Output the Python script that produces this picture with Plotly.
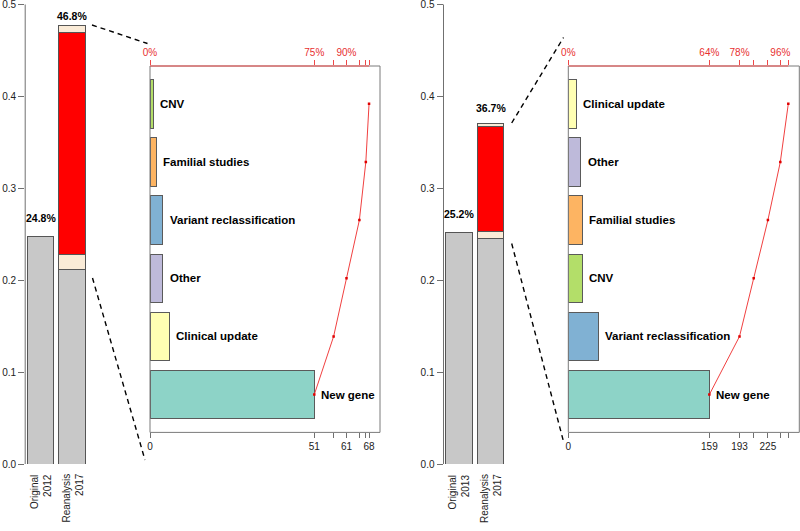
import plotly.graph_objects as go

# ---------------- data ----------------
bar_labels_1 = ["Original<br>2012", "Reanalysis<br>2017"]
bar_labels_2 = ["Original<br>2013", "Reanalysis<br>2017"]
pct_text_1 = ["24.8%", "46.8%"]
pct_text_2 = ["25.2%", "36.7%"]

original_1 = 0.248
re_grey_1 = 0.212
re_beige_low_1 = 0.016
re_red_1 = 0.241
re_beige_top_1 = 0.008
label_vals_1 = [0.248, 0.468]

original_2 = 0.252
re_grey_2 = 0.245
re_beige_low_2 = 0.008
re_red_2 = 0.114
re_beige_top_2 = 0.003
label_vals_2 = [0.252, 0.367]

cats_1 = ["New gene", "Clinical update", "Other", "Variant reclassification", "Familial studies", "CNV"]
counts_1 = [51, 6, 4, 4, 2, 1]
show_bottom_1 = [True, True, False, True, False, False, True]
show_top_1 = [True, True, False, True, False, False, False]

cats_2 = ["New gene", "Variant reclassification", "CNV", "Familial studies", "Other", "Clinical update"]
counts_2 = [159, 34, 16, 16, 14, 9]
show_bottom_2 = [True, True, True, False, True, False, False]
show_top_2 = [True, True, True, False, False, True, False]

y_ticks = [0.0, 0.1, 0.2, 0.3, 0.4, 0.5]

cat_colors = {
    "New gene": "#8DD3C7",
    "Clinical update": "#FFFFB3",
    "Other": "#BEBADA",
    "Variant reclassification": "#80B1D3",
    "Familial studies": "#FDB462",
    "CNV": "#B3DE69",
}

GREY = "#C8C8C8"
BEIGE = "#FAEBD7"
RED = "#FF0000"
W, H = 800, 531
FONT = "Liberation Sans, Arial, sans-serif"


def fx(p):
    return p / W


def fy(p):
    return 1 - p / H


fig = go.Figure()

# bar centres (R barplot style: width 1, space 0.2)
main_x = [0.7, 1.9]
main_range = [0.112, 2.488]


def add_main(xa, ya, original, grey, beige_low, red, beige_top):
    line = dict(color="#555555", width=1)
    fig.add_trace(go.Bar(x=main_x, y=[original, grey], width=1, marker=dict(color=GREY, line=line),
                         xaxis=xa, yaxis=ya, showlegend=False))
    fig.add_trace(go.Bar(x=[main_x[1]], y=[beige_low], width=1, marker=dict(color=BEIGE, line=line),
                         xaxis=xa, yaxis=ya, showlegend=False))
    fig.add_trace(go.Bar(x=[main_x[1]], y=[red], width=1, marker=dict(color=RED, line=line),
                         xaxis=xa, yaxis=ya, showlegend=False))
    fig.add_trace(go.Bar(x=[main_x[1]], y=[beige_top], width=1, marker=dict(color=BEIGE, line=line),
                         xaxis=xa, yaxis=ya, showlegend=False))


add_main("x", "y", original_1, re_grey_1, re_beige_low_1, re_red_1, re_beige_top_1)
add_main("x4", "y4", original_2, re_grey_2, re_beige_low_2, re_red_2, re_beige_top_2)

inset_y = [0.7 + 1.2 * i for i in range(6)]


def cumul(vals):
    out, s = [], 0
    for v in vals:
        s += v
        out.append(s)
    return out


def add_inset(xa, xtop, ya, cats, counts):
    fig.add_trace(go.Bar(y=inset_y, x=counts, orientation="h", width=1,
                         marker=dict(color=[cat_colors[c] for c in cats], line=dict(color="#5a5a5a", width=1)),
                         xaxis=xa, yaxis=ya, showlegend=False))
    cum = cumul(counts)
    fig.add_trace(go.Scatter(x=cum, y=inset_y, mode="lines+markers",
                             line=dict(color="#F04040", width=1),
                             marker=dict(color="#E00000", size=2.5, symbol="square"),
                             xaxis=xtop, yaxis=ya, showlegend=False))


add_inset("x2", "x3", "y2", cats_1, counts_1)
add_inset("x5", "x6", "y5", cats_2, counts_2)

# main y: 0 at px 464, 0.5 at px 4.5 ; range extended a hair so the 0.5 tick is kept
Y_TOP = 0.501
px_per_unit = (464 - 4.5) / 0.5
ydom_main = [fy(464), fy(464 - Y_TOP * px_per_unit)]
ydom_inset = [fy(432.4), fy(66)]

axis_font = dict(family=FONT, size=10, color="#222222")

layout = dict(
    width=W, height=H, margin=dict(l=0, r=0, t=0, b=0, autoexpand=False),
    paper_bgcolor="white", plot_bgcolor="white",
    barmode="stack", bargap=0, hovermode=False,
    font=dict(family=FONT),
)


def main_axes(xname, yname, xdom):
    layout[xname] = dict(domain=xdom, range=main_range, visible=False, fixedrange=True,
                         automargin=False, anchor=yname.replace("axis", ""))
    layout[yname] = dict(domain=ydom_main, range=[0, Y_TOP], showgrid=False, zeroline=False,
                         showline=False, ticklabeloverflow="allow",
                         ticks="outside", ticklen=6, tickcolor="#707070",
                         tickvals=y_ticks, ticktext=["%.1f" % v for v in y_ticks],
                         tickfont=axis_font, automargin=False, anchor=xname.replace("axis", ""))


main_axes("xaxis", "yaxis", [fx(25.2), fx(87.5)])
main_axes("xaxis4", "yaxis4", [fx(443.5), fx(506)])


def inset_axes(xb, xt, ya, xdom, counts, show_b, show_t):
    cum = [0] + cumul(counts)
    total = cum[-1]
    rng = [0, total * 1.05]
    bot_text = [str(c) if s else "" for c, s in zip(cum, show_b)]
    top_text = ["%d%%" % round(100 * c / total) if s else "" for c, s in zip(cum, show_t)]
    layout[xb] = dict(domain=xdom, range=rng, showgrid=False, zeroline=False, showline=False,
                      ticks="outside", ticklen=5, tickcolor="#707070", ticklabeloverflow="allow",
                      tickvals=cum, ticktext=bot_text, tickfont=axis_font, automargin=False,
                      anchor=ya.replace("axis", ""))
    layout[xt] = dict(range=rng, overlaying=xb.replace("axis", ""), side="top",
                      showgrid=False, zeroline=False, showline=False, ticklabeloverflow="allow",
                      ticks="outside", ticklen=5, tickcolor="#F04848",
                      tickvals=cum, ticktext=top_text, automargin=False,
                      tickfont=dict(family=FONT, size=10, color="#E83030"),
                      anchor=ya.replace("axis", ""))
    layout[ya] = dict(domain=ydom_inset, range=[-0.08, 7.48], visible=False, automargin=False,
                      anchor=xb.replace("axis", ""))
    return total


tot1 = inset_axes("xaxis2", "xaxis3", "yaxis2", [fx(150), fx(380)], counts_1, show_bottom_1, show_top_1)
tot2 = inset_axes("xaxis5", "xaxis6", "yaxis5", [fx(568.3), fx(799.3)], counts_2, show_bottom_2, show_top_2)

fig.update_layout(**layout)

shapes = []
# main y axis lines from 0 to 0.5
for xr, yr in [("x", "y"), ("x4", "y4")]:
    shapes.append(dict(type="line", xref=xr + " domain", yref=yr, x0=0, x1=0, y0=y_ticks[0], y1=y_ticks[-1],
                       line=dict(color="#707070", width=1)))
for xr, yr, tot in [("x2", "y2", tot1), ("x5", "y5", tot2)]:
    shapes.append(dict(type="rect", xref=xr + " domain", yref=yr + " domain", x0=0, x1=1, y0=0, y1=1,
                       line=dict(color="#7a7a7a", width=1), fillcolor="rgba(0,0,0,0)", layer="above"))
    shapes.append(dict(type="line", xref=xr, yref=yr + " domain", x0=0, x1=tot, y0=1, y1=1,
                       line=dict(color="#F05050", width=1), layer="above"))

# dashed connectors (pixel positions of the zoom guides)
connectors = [
    ((92, 25), (147.5, 43.5)),
    ((92.5, 278), (145, 460)),
    ((511.7, 123), (563.5, 37.5)),
    ((511.7, 243.5), (563.5, 441.5)),
]
for (x0, y0), (x1, y1) in connectors:
    shapes.append(dict(type="line", xref="paper", yref="paper", x0=fx(x0), y0=fy(y0), x1=fx(x1), y1=fy(y1),
                       line=dict(color="black", width=1.4, dash="5px,4px")))
fig.update_layout(shapes=shapes)

ann = []
bold = dict(family=FONT, size=10.5, color="black")
for xa, ya, vals, texts in [("x", "y", label_vals_1, pct_text_1), ("x4", "y4", label_vals_2, pct_text_2)]:
    for xc, v, t in zip(main_x, vals, texts):
        ann.append(dict(x=xc, y=v + 0.02, xref=xa, yref=ya, text="<b>%s</b>" % t, showarrow=False,
                        xanchor="center", yanchor="middle", font=bold))
for xa, ya, labels in [("x", "y", bar_labels_1), ("x4", "y4", bar_labels_2)]:
    for xc, t in zip(main_x, labels):
        ann.append(dict(x=xc, y=0, xref=xa, yref=ya, text=t, showarrow=False, textangle=-90,
                        align="right", xanchor="center", yanchor="top", yshift=-8,
                        font=dict(family=FONT, size=10, color="#222222")))
for xa, ya, cats, counts in [("x2", "y2", cats_1, counts_1), ("x5", "y5", cats_2, counts_2)]:
    for yc, c, n in zip(inset_y, cats, counts):
        ann.append(dict(x=n, y=yc, xref=xa, yref=ya, text="<b>%s</b>" % c, showarrow=False,
                        xanchor="left", yanchor="middle", xshift=5,
                        font=dict(family=FONT, size=11.5, color="black")))
fig.update_layout(annotations=ann)

fig.write_html("out.html", config={"displayModeBar": False, "staticPlot": True},
               post_script="document.body.style.margin='0';document.body.style.overflow='hidden';")
